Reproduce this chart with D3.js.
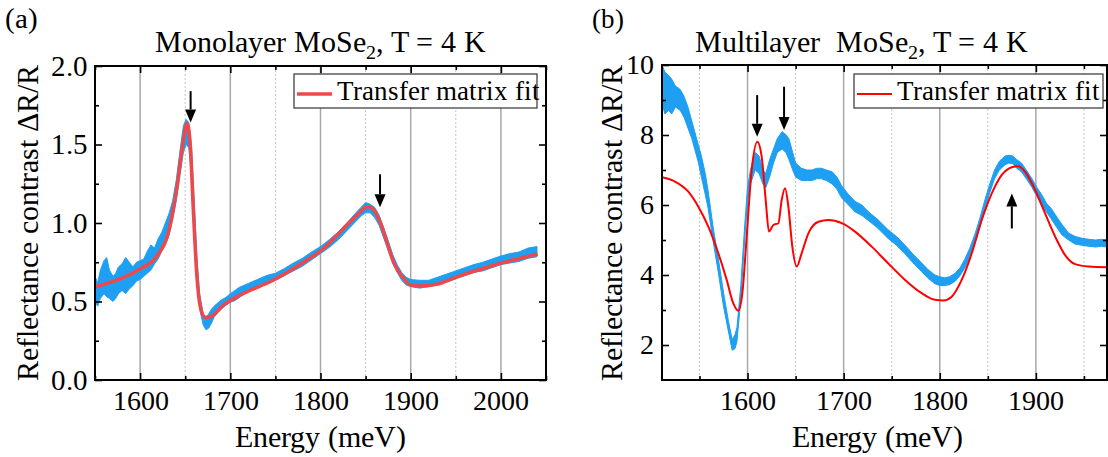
<!DOCTYPE html>
<html><head><meta charset="utf-8">
<script src="https://cdn.jsdelivr.net/npm/d3@7"></script>
<style>
@font-face{font-family:"RefSerif";src:local("Liberation Serif"),local("LiberationSerif"),local("LiberationSerif-Regular"),local("Tinos"),local("Tinos-Regular"),local("Times New Roman"),local("Nimbus Roman"),local("NimbusRoman-Regular"),local("DejaVu Serif"),local("DejaVuSerif"),local("Noto Serif"),local("NotoSerif-Regular");}
body{margin:0;background:#fff}
svg{display:block}
svg text{fill:#000}
</style>
</head><body>
<svg id="c" width="1108" height="457"></svg>
<script>
// ---------- DATA ----------
// Panel (a): monolayer
const xTicksA = [1600, 1700, 1800, 1900, 2000];
const yTicksA = [0.0, 0.5, 1.0, 1.5, 2.0];
// measured data band [energy, low, high]
const dataA = [
 [1550,0.50,0.66],[1553,0.47,0.62],[1556,0.52,0.70],[1560,0.55,0.76],[1563,0.53,0.78],
 [1566,0.52,0.70],[1570,0.50,0.66],[1573,0.52,0.68],[1576,0.55,0.72],[1580,0.57,0.74],
 [1584,0.55,0.78],[1588,0.58,0.75],[1592,0.60,0.72],[1596,0.63,0.75],[1600,0.64,0.76],
 [1604,0.66,0.77],[1608,0.68,0.82],[1612,0.70,0.86],[1616,0.74,0.84],[1620,0.77,0.90],
 [1624,0.82,0.94],[1628,0.86,1.00],[1632,0.92,1.06],[1636,1.02,1.14],[1640,1.14,1.27],
 [1644,1.30,1.45],[1648,1.45,1.62],[1651,1.50,1.66],[1654,1.48,1.64],[1657,1.30,1.48],
 [1660,1.00,1.15],[1663,0.66,0.78],[1666,0.45,0.55],[1670,0.35,0.42],[1673,0.32,0.40],
 [1676,0.33,0.42],[1679,0.36,0.45],[1682,0.40,0.47],[1686,0.43,0.49],[1690,0.45,0.51],
 [1695,0.475,0.525],[1700,0.495,0.55],[1705,0.505,0.57],[1710,0.525,0.59],[1720,0.565,0.615],
 [1730,0.585,0.64],[1740,0.615,0.665],[1750,0.635,0.68],[1760,0.665,0.71],[1770,0.695,0.745],
 [1780,0.725,0.775],[1790,0.765,0.815],[1800,0.805,0.85],[1810,0.845,0.895],[1820,0.895,0.945],
 [1830,0.955,1.005],[1840,1.015,1.07],[1845,1.045,1.10],[1850,1.065,1.13],[1855,1.065,1.12],
 [1860,1.035,1.10],[1865,0.985,1.05],[1870,0.905,0.97],[1875,0.825,0.89],[1880,0.745,0.80],
 [1885,0.685,0.735],[1890,0.635,0.685],[1895,0.605,0.655],[1900,0.595,0.64],[1910,0.585,0.635],
 [1920,0.595,0.635],[1930,0.605,0.655],[1940,0.625,0.675],[1950,0.645,0.695],[1960,0.665,0.715],
 [1970,0.685,0.735],[1980,0.695,0.75],[1990,0.715,0.77],[2000,0.735,0.79],[2010,0.745,0.805],
 [2020,0.755,0.815],[2030,0.775,0.84],[2040,0.785,0.85]
];
// transfer matrix fit [energy, value]
const fitA = [
 [1550,0.594],[1600,0.708],[1618,0.785],[1633,0.977],[1641,1.231],[1648,1.529],[1652,1.635],
 [1655.5,1.508],[1659,1.083],[1663,0.658],[1666.7,0.467],[1672,0.399],[1678,0.403],
 [1692.6,0.478],[1711,0.541],[1748,0.637],[1785,0.764],[1803.7,0.839],[1822,0.945],
 [1840.7,1.051],[1852,1.104],[1857.4,1.093],[1866.7,0.998],[1874,0.871],[1881.5,0.743],
 [1890.7,0.658],[1900,0.605],[1911,0.599],[1929.6,0.611],[1952,0.658],[1989,0.726],[2040.7,0.803]
];
// arrows [energy, start value, tip value]
const arrowsA = [[1656,1.84,1.64],[1866,1.31,1.10]];

// Panel (b): multilayer
const xTicksB = [1600, 1700, 1800, 1900];
const yTicksB = [2, 4, 6, 8, 10];
const dataB = [
 [1511,8.9,10.0],[1514,8.6,9.8],[1518,8.7,9.7],[1521,8.6,9.6],[1525,8.8,9.4],[1530,8.7,9.3],
 [1534,8.5,9.1],[1538,8.2,8.8],[1542,7.9,8.4],[1545,7.6,8.1],[1549,7.2,7.7],[1552,6.8,7.4],
 [1556,6.3,6.9],[1559,5.9,6.4],[1564,5.0,5.4],[1570,4.0,4.4],[1575,3.1,3.5],[1580,2.4,2.7],
 [1584,1.85,2.15],[1587,1.9,2.3],[1589,2.1,2.5],[1593,3.3,3.7],[1597,5.0,5.4],[1600,6.1,6.5],
 [1603,6.6,7.0],[1608,7.0,7.5],[1612,6.9,7.4],[1616,6.6,7.0],[1619,6.5,6.9],[1623,6.8,7.3],
 [1627,7.2,7.6],[1631,7.5,7.9],[1636,7.6,8.1],[1640,7.5,8.0],[1643,7.3,7.9],[1647,7.0,7.5],
 [1650,6.8,7.2],[1656,6.7,7.05],[1662,6.7,7.0],[1667,6.7,7.0],[1672,6.75,7.05],[1677,6.75,7.05],
 [1682,6.7,7.0],[1688,6.6,6.95],[1693,6.45,6.8],[1698,6.2,6.55],[1705,6.0,6.3],[1712,5.8,6.1],
 [1719,5.7,6.0],[1726,5.55,5.8],[1735,5.35,5.6],[1746,5.05,5.3],[1755,4.85,5.1],[1764,4.6,4.85],
 [1772,4.35,4.6],[1781,4.1,4.35],[1788,3.9,4.15],[1795,3.75,4.0],[1800,3.7,3.95],[1805,3.7,3.92],
 [1810,3.72,3.95],[1816,3.82,4.05],[1821,3.98,4.2],[1826,4.2,4.45],[1831,4.5,4.75],[1837,4.95,5.2],
 [1842,5.4,5.65],[1847,5.9,6.15],[1852,6.35,6.6],[1857,6.75,7.0],[1862,7.0,7.25],[1868,7.15,7.4],
 [1872,7.2,7.42],[1876,7.18,7.4],[1880,7.05,7.3],[1885,6.95,7.2],[1890,6.75,7.0],[1896,6.5,6.75],
 [1901,6.25,6.5],[1906,6.0,6.3],[1911,5.8,6.05],[1916,5.6,5.9],[1922,5.35,5.65],[1927,5.15,5.45],
 [1934,5.0,5.2],[1941,4.88,5.1],[1948,4.85,5.05],[1955,4.82,5.02],[1962,4.8,5.0],[1968,4.82,5.02],
 [1974,4.8,5.0]
];
const fitB = [
 [1511,6.79],[1524.5,6.67],[1538.4,6.38],[1548.8,5.95],[1559.2,5.38],[1569.6,4.62],[1578.3,3.86],
 [1585.2,3.19],[1590.4,2.98],[1594.6,3.48],[1599.1,5.10],[1604.3,7.0],[1610.2,7.81],[1614.7,7.38],
 [1618.9,6.14],[1622.3,5.24],[1626.9,5.43],[1632.1,5.48],[1635.5,6.14],[1639.0,6.48],[1642.5,5.95],
 [1646.6,4.81],[1651.1,4.24],[1656.3,4.62],[1663.3,5.19],[1673.7,5.52],[1684.1,5.57],[1698.0,5.48],
 [1711.8,5.24],[1729.2,4.81],[1746.5,4.33],[1763.9,3.86],[1781.2,3.48],[1795.1,3.29],[1803.8,3.27],
 [1812.4,3.38],[1822.8,3.86],[1833.3,4.62],[1843.7,5.57],[1854.1,6.33],[1864.5,6.86],[1874.9,7.08],
 [1881.8,7.11],[1888.8,6.95],[1899.2,6.43],[1909.6,5.76],[1920.0,5.10],[1930.4,4.57],[1940.8,4.31],
 [1954.7,4.24],[1975,4.22]
];
const arrowsB = [[1610,9.14,7.95],[1638,9.38,8.14],[1875,5.33,6.33]];

const legendLabel = "Transfer matrix fit";
const xTitle = "Energy (meV)";
const yTitle = "Reflectance contrast ΔR/R";

// ---------- DRAW ----------
const FONT = 'RefSerif, "Liberation Serif", Tinos, "Times New Roman", Times, "Nimbus Roman", "DejaVu Serif", "Noto Serif", serif';
const svg = d3.select("#c").attr("font-family", FONT);
const BLUE = "#1e9ff2";

// shrink a text so its width does not exceed the width it has in the reference
function fit(sel, size, maxW){
  sel.attr("font-size", size);
  const w = sel.node().getBBox().width;
  if (w > maxW) {
    const s = size * maxW / w;
    sel.attr("font-size", s);
    sel.selectAll("tspan.sub").attr("font-size", s*0.67);
  }
  return sel;
}

function panel(cfg){
  const {L,R,T,B} = cfg;
  const x = d3.scaleLinear().domain(cfg.xDom).range([L,R]);
  const y = d3.scaleLinear().domain(cfg.yDom).range([B,T]);
  const g = svg.append("g");
  const clipId = "clip"+cfg.id;
  svg.append("clipPath").attr("id",clipId).append("rect")
     .attr("x",L).attr("y",T).attr("width",R-L).attr("height",B-T);

  // vertical grid
  const majors = cfg.xTicks;
  const minors = d3.range(cfg.xDom[0], cfg.xDom[1]+1, 1).filter(v=>v%50===0 && v%100!==0);
  g.selectAll(".gmaj").data(majors).join("line")
    .attr("x1",d=>x(d)).attr("x2",d=>x(d)).attr("y1",T).attr("y2",B)
    .attr("stroke","#a8a8a8").attr("stroke-width",1.5);
  g.selectAll(".gmin").data(minors).join("line")
    .attr("x1",d=>x(d)).attr("x2",d=>x(d)).attr("y1",T).attr("y2",B)
    .attr("stroke","#c4c4c4").attr("stroke-width",1).attr("stroke-dasharray","2,2");

  const dg = g.append("g").attr("clip-path",`url(#${clipId})`);
  dg.append("path").datum(cfg.data)
    .attr("d", d3.area().x(d=>x(d[0])).y0(d=>y(d[1])).y1(d=>y(d[2])).curve(d3.curveLinear))
    .attr("fill",BLUE).attr("stroke",BLUE).attr("stroke-width",1).attr("stroke-linejoin","round");
  dg.append("path").datum(cfg.fit)
    .attr("d", d3.line().x(d=>x(d[0])).y(d=>y(d[1])).curve(d3.curveMonotoneX))
    .attr("fill","none").attr("stroke",cfg.fitColor).attr("stroke-width",cfg.fitWidth)
    .attr("stroke-linejoin","round");

  // axes with inward ticks
  const yMinor = cfg.yMinor;
  const axL = d3.axisLeft(y).tickValues(yMinor).tickSize(-4).tickFormat("");
  const axLM = d3.axisLeft(y).tickValues(cfg.yTicks).tickSize(-7).tickPadding(cfg.yPad).tickFormat(cfg.yFmt);
  const axR = d3.axisRight(y).tickValues(yMinor).tickSize(-4).tickFormat("");
  const axRM = d3.axisRight(y).tickValues(cfg.yTicks).tickSize(-7).tickFormat("");
  const axB = d3.axisBottom(x).tickValues(minors).tickSize(-4).tickFormat("");
  const axBM = d3.axisBottom(x).tickValues(majors).tickSize(-7).tickPadding(10).tickFormat(d3.format("d"));
  const axT = d3.axisTop(x).tickValues(minors).tickSize(-4).tickFormat("");
  const axTM = d3.axisTop(x).tickValues(majors).tickSize(-7).tickFormat("");
  const add = (ax, tr) => {
    const a = g.append("g").attr("transform",tr).call(ax).attr("font-family",FONT).attr("font-size",29);
    a.select(".domain").remove();
    a.selectAll("line").attr("stroke","#000").attr("stroke-width",1.6);
    a.selectAll("text").attr("fill","#000").each(function(){ fit(d3.select(this), 29, this.textContent.length*14.5); });
    return a;
  };
  add(axL,`translate(${L},0)`); add(axLM,`translate(${L},0)`);
  add(axR,`translate(${R},0)`); add(axRM,`translate(${R},0)`);
  add(axB,`translate(0,${B})`); add(axBM,`translate(0,${B})`);
  add(axT,`translate(0,${T})`); add(axTM,`translate(0,${T})`);

  // frame
  g.append("rect").attr("x",L).attr("y",T).attr("width",R-L).attr("height",B-T)
    .attr("fill","none").attr("stroke","#000").attr("stroke-width",2);

  // arrows
  cfg.arrows.forEach(a=>{
    const ax = x(a[0]), y0 = y(a[1]), y1 = y(a[2]);
    const dir = y1 > y0 ? 1 : -1;
    const hl = 13, hw = 5.5;
    g.append("line").attr("x1",ax).attr("x2",ax).attr("y1",y0).attr("y2",y1 - dir*hl)
      .attr("stroke","#000").attr("stroke-width",2);
    g.append("path").attr("d",`M${ax},${y1} L${ax-hw},${y1-dir*hl} L${ax+hw},${y1-dir*hl} Z`)
      .attr("fill","#000");
  });

  // legend
  const lg = cfg.legend;
  g.append("rect").attr("x",lg.x).attr("y",lg.y).attr("width",lg.w).attr("height",lg.h)
    .attr("fill","#fff").attr("stroke","#333").attr("stroke-width",1.2);
  g.append("line").attr("x1",lg.x+3).attr("x2",lg.x+38).attr("y1",lg.y+20).attr("y2",lg.y+20)
    .attr("stroke",cfg.fitColor).attr("stroke-width",cfg.fitWidth);
  fit(g.append("text").attr("x",lg.x+43).attr("y",lg.y+26).text(legendLabel), 30, lg.w-48);

  // titles
  const t = g.append("text").attr("x",cfg.titleX).attr("y",52).attr("text-anchor","middle");
  t.append("tspan").text(cfg.titleMain);
  t.append("tspan").attr("class","sub").attr("dy",7).attr("font-size",20).text("2");
  t.append("tspan").attr("dy",-7).text(", T = 4 K");
  fit(t, 30, cfg.titleW);
  fit(g.append("text").attr("x",cfg.tagX).attr("y",28).text(cfg.tag), 30, 32);
  fit(g.append("text").attr("x",cfg.xTitleX).attr("y",447).attr("text-anchor","middle").text(xTitle), 30, 178);
  fit(g.append("text").attr("transform",`translate(${cfg.yTitleX},${(T+B)/2}) rotate(-90)`)
    .attr("text-anchor","middle").text(yTitle), 30, 322);
}

panel({
  id:"a", L:95, R:546, T:66, B:380, xDom:[1550,2050], yDom:[0,2],
  xTicks:xTicksA, yTicks:yTicksA, yMinor:d3.range(0.25,2,0.5), yFmt:d3.format(".1f"), yPad:7,
  data:dataA, fit:fitA, fitColor:"#f04848", fitWidth:3.5, arrows:arrowsA,
  legend:{x:294,y:74,w:243,h:34}, titleX:320, titleW:332, titleMain:"Monolayer MoSe", tag:"(a)", tagX:5,
  xTitleX:320, yTitleX:38
});
panel({
  id:"b", L:662, R:1107, T:65, B:380, xDom:[1511,1974], yDom:[1,10],
  xTicks:xTicksB, yTicks:yTicksB, yMinor:[3,5,7,9], yFmt:d3.format("d"), yPad:8,
  data:dataB, fit:fitB, fitColor:"#ff0000", fitWidth:2, arrows:arrowsB,
  legend:{x:854,y:74,w:249,h:34}, titleX:861, titleW:334, titleMain:"Multilayer\u00a0\u00a0MoSe", tag:"(b)", tagX:592,
  xTitleX:877, yTitleX:622
});
</script>
</body></html>
